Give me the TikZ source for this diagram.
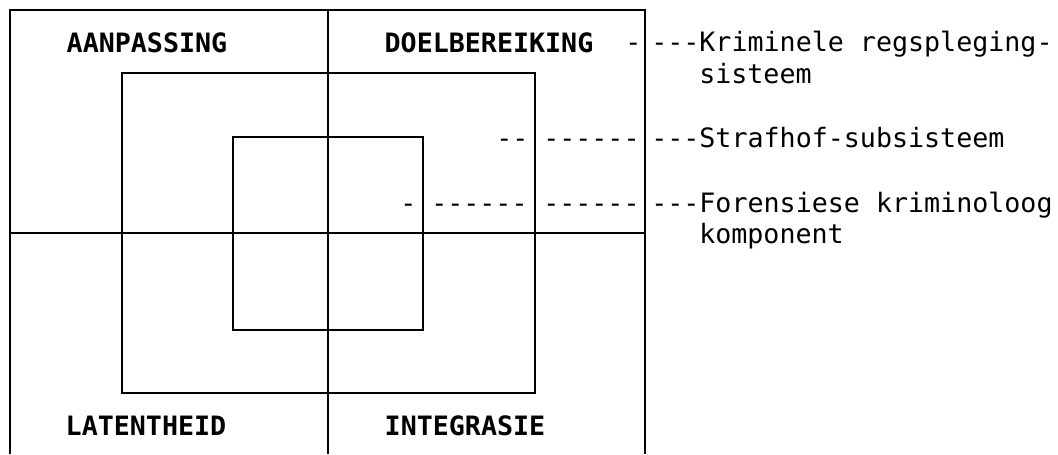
\documentclass[tikz,border=0pt]{standalone}
\usepackage{fontspec}
\setmonofont{DejaVu Sans Mono}
\tikzset{
  frame/.style={line width=2pt},
  lab/.style={font=\ttfamily\bfseries\fontsize{20}{24}\selectfont, inner sep=0pt, anchor=base},
  note/.style={font=\ttfamily\fontsize{20}{24}\selectfont, inner sep=0pt, anchor=base west},
}
\begin{document}
\begin{tikzpicture}[x=0.75pt,y=-0.75pt]
\useasboundingbox (0,0) rectangle (1058,454);
% outer frame (open at the bottom) and quadrant lines
\draw[frame] (10,454) -- (10,10) -- (645,10) -- (645,454);
\draw[frame] (328,10) -- (328,454);
\draw[frame] (10,233) -- (645,233);
% nested boxes
\draw[frame] (122,73) rectangle (535,393);
\draw[frame] (233,137) rectangle (423,330);
% quadrant labels
\node[lab] (aan)  at (147,52)  {AANPASSING};
\node[lab] (doel) at (489,52)  {DOELBEREIKING};
\node[lab] (lat)  at (146,435) {LATENTHEID};
\node[lab] (int)  at (465,435) {INTEGRASIE};
% legend rows
\node[note] (d1)    at (625,51)  {-};
\node[note] (krim)  at (651,51)  {---Kriminele regspleging-};
\node[note] (sis)   at (699,83)  {sisteem};
\node[note] (d2a)   at (496,147) {--};
\node[note] (d2b)   at (543,147) {------};
\node[note] (straf) at (651,147) {---Strafhof-subsisteem};
\node[note] (d3a)   at (400,212) {-};
\node[note] (d3b)   at (431,212) {------};
\node[note] (d3c)   at (543,212) {------};
\node[note] (for)   at (651,212) {---Forensiese kriminoloog};
\node[note] (komp)  at (699,243) {komponent};
\end{tikzpicture}
\end{document}
